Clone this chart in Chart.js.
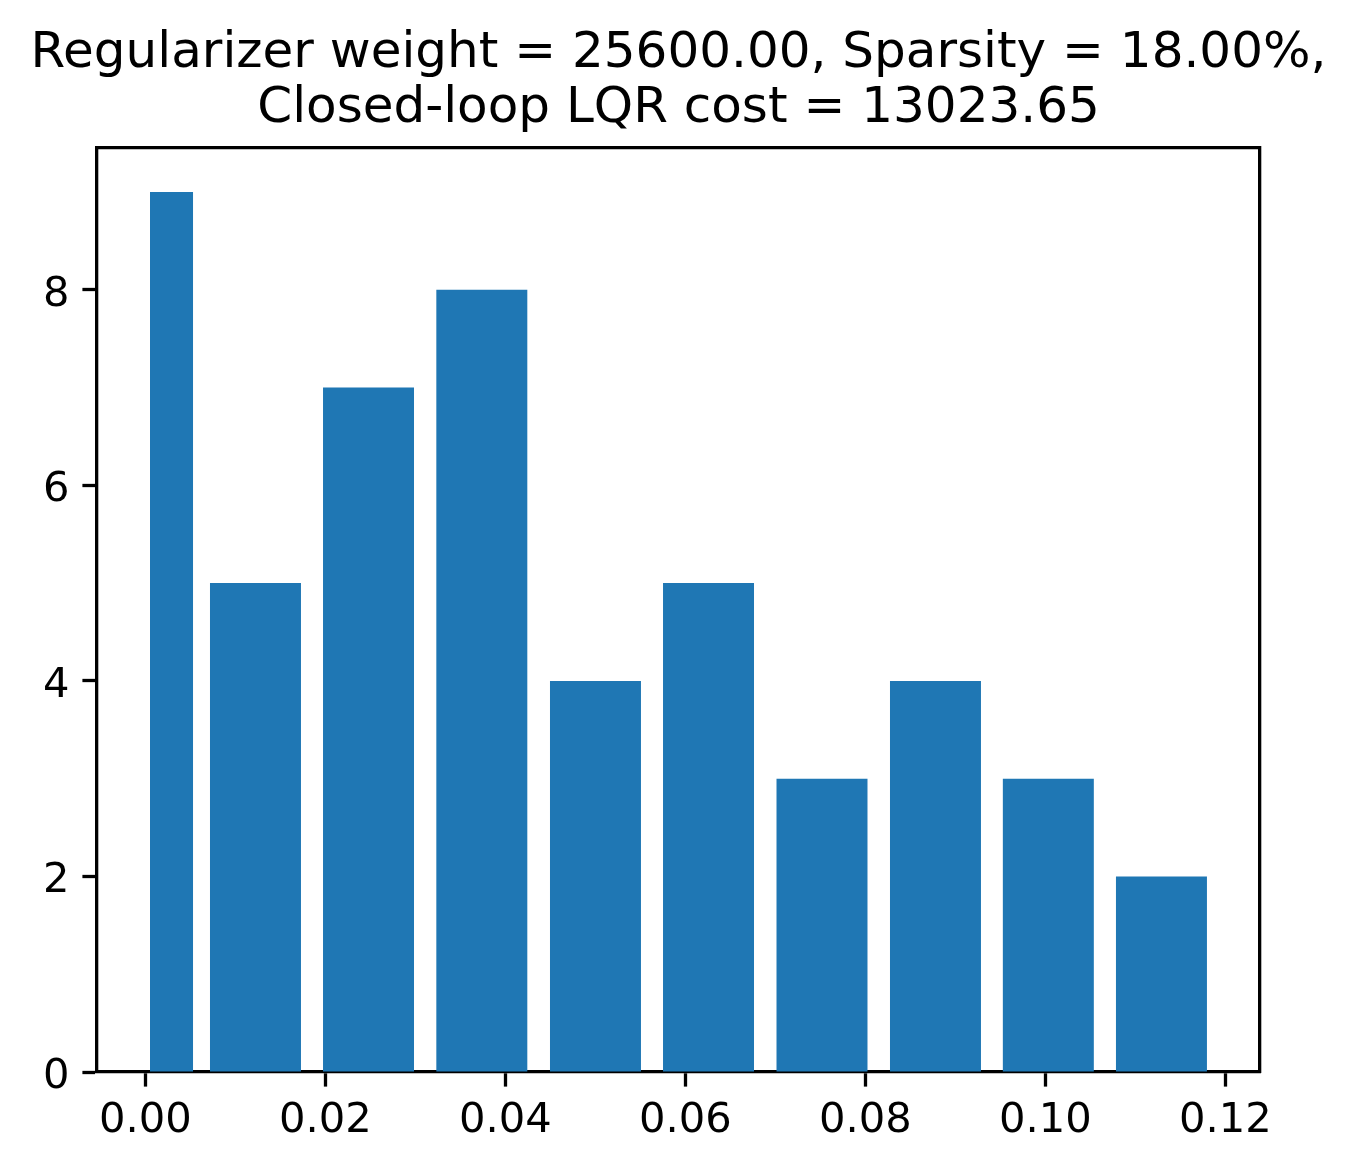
<!DOCTYPE html>
<html>
<head>
<meta charset="utf-8">
<script src="https://cdn.jsdelivr.net/npm/chart.js@4/dist/chart.umd.min.js"></script>
<style>
  body { margin: 0; background: #fff; }
</style>
</head>
<body>
<canvas id="histChart" width="1357" height="1171"></canvas>
<script>
// bar centres (x) and counts
const binCenters = [0.00291, 0.01224, 0.0248, 0.03739, 0.05002, 0.06258, 0.07519, 0.0878, 0.10034, 0.11291];
const counts = [9, 5, 7, 8, 4, 5, 3, 4, 3, 2];
// bar widths in x units (first bar is narrower)
const firstBarWidth = 0.00478;
const barWidth = 0.01011;

const xTicks = [0, 0.02, 0.04, 0.06, 0.08, 0.1, 0.12];
const yTicks = [0, 2, 4, 6, 8];
const xRange = [-0.00537, 0.12386];
const yRange = [0, 9.45];

const titleLines = [
  "Regularizer weight = 25600.00, Sparsity = 18.00%,",
  "Closed-loop LQR cost = 13023.65",
];

const FONT = "'DejaVu Sans', 'Liberation Sans', sans-serif";
const spineWidth = 3.3;

// chart.js sizes bars from the smallest gap between bar centres
let minGap = Infinity;
for (let i = 1; i < binCenters.length; i++) {
  minGap = Math.min(minGap, binCenters[i] - binCenters[i - 1]);
}

const points = binCenters.map((x, i) => ({ x: x, y: counts[i] }));

const ctx = document.getElementById("histChart").getContext("2d");

new Chart(ctx, {
  type: "bar",
  data: {
    datasets: [
      {
        data: points.slice(0, 1),
        backgroundColor: "#1f77b4",
        borderWidth: 0,
        grouped: false,
        categoryPercentage: 1,
        barPercentage: firstBarWidth / minGap,
      },
      {
        data: points.slice(1),
        backgroundColor: "#1f77b4",
        borderWidth: 0,
        grouped: false,
        categoryPercentage: 1,
        barPercentage: barWidth / minGap,
      },
    ],
  },
  options: {
    responsive: false,
    animation: false,
    layout: { padding: 0 },
    plugins: {
      legend: { display: false },
      tooltip: { enabled: false },
      title: {
        display: true,
        text: titleLines,
        color: "#000",
        font: { family: FONT, size: 50, weight: "normal", lineHeight: 1.1 },
        padding: { top: 27, bottom: 11 },
      },
    },
    scales: {
      x: {
        type: "linear",
        position: "bottom",
        min: xRange[0],
        max: xRange[1],
        offset: false,
        afterBuildTicks: (scale) => {
          scale.ticks = xTicks.map((v) => ({ value: v }));
        },
        afterFit: (scale) => {
          scale.height = 99;
        },
        grid: {
          offset: false,
          drawOnChartArea: false,
          drawTicks: true,
          tickLength: 14.6,
          tickWidth: spineWidth,
          tickColor: "#000",
        },
        border: { display: true, color: "#000", width: spineWidth },
        ticks: {
          color: "#000",
          padding: 9.5,
          maxRotation: 0,
          autoSkip: false,
          font: { family: FONT, size: 41.67 },
          callback: (v) => Number(v).toFixed(2),
        },
      },
      y: {
        type: "linear",
        position: "left",
        min: yRange[0],
        max: yRange[1],
        afterBuildTicks: (scale) => {
          scale.ticks = yTicks.map((v) => ({ value: v }));
        },
        afterFit: (scale) => {
          scale.width = 97;
        },
        grid: {
          drawOnChartArea: false,
          drawTicks: true,
          tickLength: 14.6,
          tickWidth: spineWidth,
          tickColor: "#000",
        },
        border: { display: true, color: "#000", width: spineWidth },
        ticks: {
          color: "#000",
          padding: 13,
          labelOffset: 5,
          font: { family: FONT, size: 41.67 },
          callback: (v) => String(v),
        },
      },
      // top and right frame lines
      x2: {
        type: "linear",
        position: "top",
        afterFit: (scale) => {
          scale.height = 0;
        },
        grid: { display: false, drawTicks: false },
        ticks: { display: false },
        border: { display: true, color: "#000", width: spineWidth },
      },
      y2: {
        type: "linear",
        position: "right",
        afterFit: (scale) => {
          scale.width = 97;
        },
        grid: { display: false, drawTicks: false },
        ticks: { display: false },
        border: { display: true, color: "#000", width: spineWidth },
      },
    },
  },
});
</script>
</body>
</html>
